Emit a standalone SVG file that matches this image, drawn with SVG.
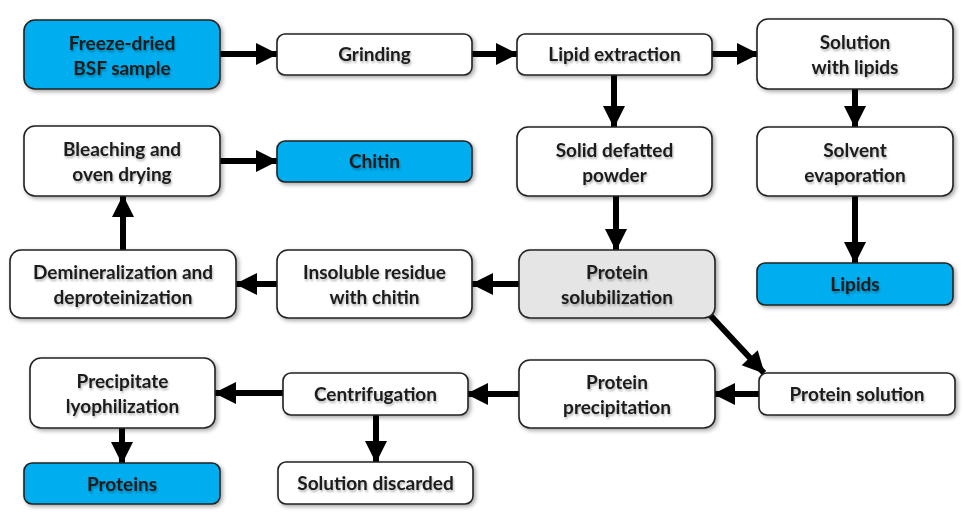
<svg xmlns="http://www.w3.org/2000/svg" width="964" height="532" viewBox="0 0 964 532">
<style>
.b{stroke:#222;stroke-width:1.6;filter:url(#sh)}
.w{fill:#fff}
.c{fill:#00AEEF}
.g{fill:#E6E5E5}
text{font-family:Lato,"Open Sans","Liberation Sans",sans-serif;font-weight:bold;font-size:19px;fill:#1b1b1b;text-anchor:middle;filter:url(#ts)}
.a{stroke:#000;stroke-width:6;fill:none;marker-end:url(#ah)}
</style>
<defs>
<filter id="sh" x="-10%" y="-20%" width="125%" height="150%">
<feGaussianBlur in="SourceAlpha" stdDeviation="2"/>
<feOffset dx="2" dy="2"/>
<feComponentTransfer><feFuncA type="linear" slope="0.35"/></feComponentTransfer>
<feMerge><feMergeNode/><feMergeNode in="SourceGraphic"/></feMerge>
</filter>
<filter id="ts" x="-10%" y="-30%" width="120%" height="160%">
<feGaussianBlur in="SourceAlpha" stdDeviation="1.2"/>
<feOffset dx="1" dy="1.5"/>
<feComponentTransfer><feFuncA type="linear" slope="0.3"/></feComponentTransfer>
<feMerge><feMergeNode/><feMergeNode in="SourceGraphic"/></feMerge>
</filter>
<marker id="ah" markerUnits="userSpaceOnUse" markerWidth="24" markerHeight="24" viewBox="0 0 22 24" refX="21" refY="12" orient="auto">
<path d="M0,1 L22,12 L0,23 Z" fill="#000"/>
</marker>
</defs>
<g id="connectors">
<line class="a" x1="220" y1="54" x2="277" y2="54"/>
<line class="a" x1="472" y1="54" x2="517" y2="54"/>
<line class="a" x1="712" y1="54" x2="758" y2="54"/>
<line class="a" x1="614" y1="75" x2="614" y2="127"/>
<line class="a" x1="855" y1="89" x2="855" y2="127"/>
<line class="a" x1="855" y1="196" x2="855" y2="263"/>
<line class="a" x1="616" y1="196" x2="616" y2="250"/>
<line class="a" x1="220" y1="161" x2="277" y2="161"/>
<line class="a" x1="519" y1="284" x2="472" y2="284"/>
<line class="a" x1="277" y1="284" x2="236" y2="284"/>
<line class="a" x1="123" y1="250" x2="123" y2="196"/>
<line class="a" x1="710" y1="315" x2="764" y2="373"/>
<line class="a" x1="759" y1="394" x2="714" y2="394"/>
<line class="a" x1="519" y1="394" x2="467" y2="394"/>
<line class="a" x1="283" y1="393" x2="215" y2="393"/>
<line class="a" x1="122" y1="428" x2="122" y2="463"/>
<line class="a" x1="376" y1="415" x2="376" y2="462"/>
</g>
<g id="n1"><rect class="b c" x="24" y="20" width="196" height="69" rx="11"/><text x="122" y="50">Freeze-dried</text><text x="122" y="75">BSF sample</text></g>
<g id="n2"><rect class="b w" x="277" y="34" width="195" height="41" rx="8"/><text x="374.5" y="61">Grinding</text></g>
<g id="n3"><rect class="b w" x="517" y="34" width="195" height="41" rx="8"/><text x="614.5" y="61">Lipid extraction</text></g>
<g id="n4"><rect class="b w" x="757" y="19" width="196" height="70" rx="11"/><text x="855" y="49">Solution</text><text x="855" y="74">with lipids</text></g>
<g id="n5"><rect class="b w" x="24" y="126" width="196" height="70" rx="11"/><text x="122" y="156">Bleaching and</text><text x="122" y="181">oven drying</text></g>
<g id="n6"><rect class="b c" x="277" y="141" width="195" height="41" rx="8"/><text x="374.5" y="168">Chitin</text></g>
<g id="n7"><rect class="b w" x="517" y="127" width="195" height="69" rx="11"/><text x="614.5" y="157">Solid defatted</text><text x="614.5" y="182">powder</text></g>
<g id="n8"><rect class="b w" x="757" y="127" width="196" height="69" rx="11"/><text x="855" y="157">Solvent</text><text x="855" y="182">evaporation</text></g>
<g id="n9"><rect class="b w" x="10" y="250" width="226" height="68" rx="11"/><text x="123" y="279">Demineralization and</text><text x="123" y="304">deproteinization</text></g>
<g id="n10"><rect class="b w" x="277" y="250" width="195" height="68" rx="11"/><text x="374.5" y="279">Insoluble residue</text><text x="374.5" y="304">with chitin</text></g>
<g id="n11"><rect class="b g" x="519" y="250" width="196" height="68" rx="11"/><text x="617" y="279">Protein</text><text x="617" y="304">solubilization</text></g>
<g id="n12"><rect class="b c" x="757" y="263" width="196" height="42" rx="8"/><text x="855" y="291">Lipids</text></g>
<g id="n13"><rect class="b w" x="759" y="373" width="196" height="42" rx="8"/><text x="857" y="401">Protein solution</text></g>
<g id="n14"><rect class="b w" x="519" y="360" width="196" height="68" rx="11"/><text x="617" y="389">Protein</text><text x="617" y="414">precipitation</text></g>
<g id="n15"><rect class="b w" x="283" y="373" width="185" height="42" rx="8"/><text x="375.5" y="401">Centrifugation</text></g>
<g id="n16"><rect class="b w" x="30" y="358" width="185" height="70" rx="11"/><text x="122.5" y="388">Precipitate</text><text x="122.5" y="413">lyophilization</text></g>
<g id="n17"><rect class="b c" x="24" y="463" width="196" height="41" rx="8"/><text x="122" y="491">Proteins</text></g>
<g id="n18"><rect class="b w" x="278" y="462" width="195" height="42" rx="8"/><text x="375.5" y="490">Solution discarded</text></g>
</svg>
